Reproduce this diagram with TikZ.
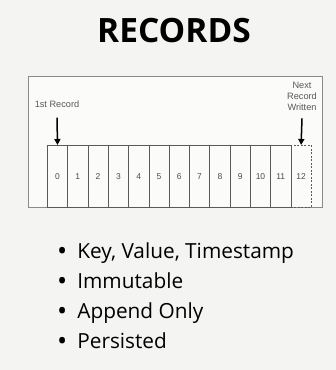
\documentclass[tikz,border=0pt]{standalone}
\usepackage{fontspec}
\setmainfont{Open Sans}
\newfontfamily\labelfont{Liberation Sans}
\usetikzlibrary{positioning,arrows.meta}

\definecolor{slidebg}{HTML}{F4F4F2}
\definecolor{framegray}{HTML}{8A8A8A}
\definecolor{cellgray}{HTML}{5A5A5A}

\newcommand\dotmark{\raisebox{-2pt}{\fontsize{27}{27}\selectfont\textbullet}}

\tikzset{
  cell/.style={draw=cellgray, line width=0.7pt, minimum width=20.3pt,
    minimum height=62pt, inner sep=0pt, anchor=north west,
    font=\labelfont\fontsize{8.5}{9}\selectfont, text=black!70},
  nextcell/.style={cell, dashed, dash pattern=on 2pt off 1.5pt},
  tag/.style={font=\labelfont\fontsize{9.2}{11}\selectfont, text=black!65,
    align=center, inner sep=0pt},
  marker/.style={-{Triangle[length=6pt,width=6pt]}, line width=1.5pt},
  bullet/.style={font=\fontsize{20.8}{22}\selectfont, anchor=base west, inner sep=0pt}
}

\begin{document}
\begin{tikzpicture}[x=1pt,y=-1pt]
  \useasboundingbox[fill=slidebg] (0,0) rectangle (336,370);

  \node[font=\bfseries\fontsize{33.5}{38}\selectfont] (title) at (174,31) {RECORDS};

  % log frame
  \draw[framegray, fill=white!60!slidebg, line width=0.8pt] (28,76) rectangle (322,207);

  % the records
  \foreach \i in {0,...,11}
    \node[cell] (r\i) at (47+20.3*\i,145) {\i};
  \node[nextcell] (r12) at (47+20.3*12,145) {12};

  % markers
  \node[tag] (first) at (57,104) {1st Record};
  \draw[marker] (first.south) ++(0,10) coordinate (f0) -- (r0.north);
  \node[tag] (next) at (302,96) {Next\\Record\\Written};
  \draw[marker] (next.south) ++(0,8) coordinate (n0) -- (r12.north);

  % properties
  \foreach \t [count=\k from 0] in {{Key, Value, Timestamp},Immutable,Append Only,Persisted}
    \node[bullet] (b\k) at (57,258+30*\k) {\dotmark\hspace{10pt}\t};
\end{tikzpicture}
\end{document}
